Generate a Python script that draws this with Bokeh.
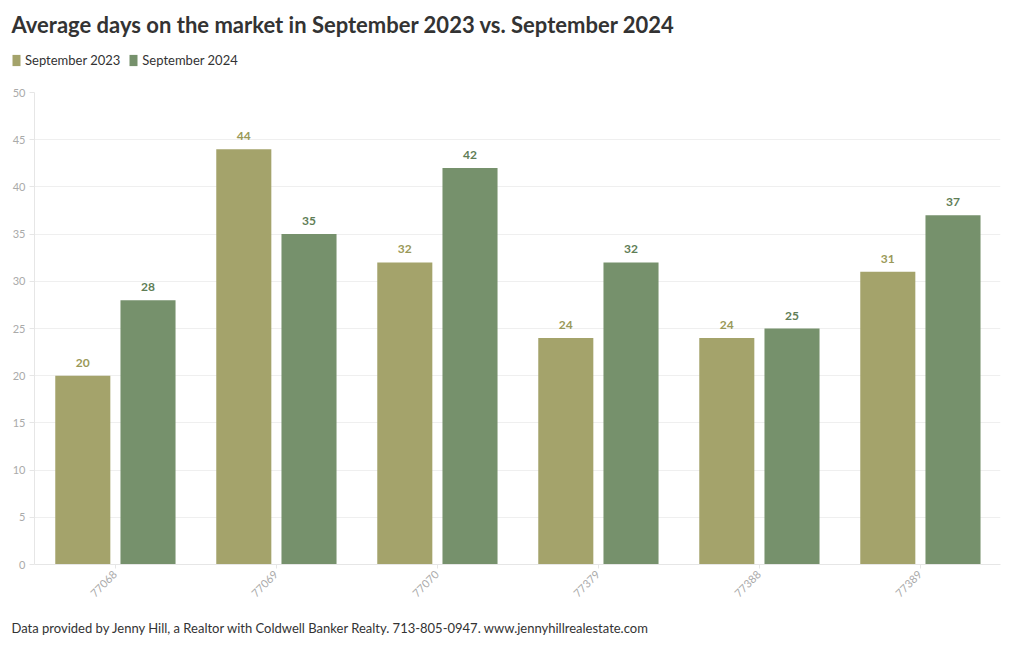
import math
from bokeh.plotting import figure
from bokeh.layouts import column, row
from bokeh.models import ColumnDataSource, Legend, LegendItem, Title, FixedTicker, Label
from bokeh.transform import dodge
from bokeh.core.properties import value
from bokeh.embed import file_html
from bokeh.resources import INLINE

zips = ["77068", "77069", "77070", "77379", "77388", "77389"]
sep2023 = [20, 44, 32, 24, 24, 31]
sep2024 = [28, 35, 42, 32, 25, 37]
series_names = ["September 2023", "September 2024"]
y_ticks = [0, 5, 10, 15, 20, 25, 30, 35, 40, 45, 50]
title_text = "Average days on the market in September 2023 vs. September 2024"
footer_text = ("Data provided by Jenny Hill, a Realtor with Coldwell Banker Realty. "
               "713-805-0947. www.jennyhillrealestate.com")

FONT = "Lato"
C23 = "#a4a36b"
C24 = "#76916c"
L23 = "#9a9958"
L24 = "#607d56"

src = ColumnDataSource(dict(
    zip=zips, a=sep2023, b=sep2024,
    at=[str(v) for v in sep2023], bt=[str(v) for v in sep2024],
))

# ---------- header: title + legend ----------
h = figure(width=1020, height=80, x_range=zips, y_range=(0, 50),
           output_backend="svg", toolbar_location=None,
           x_axis_location=None, y_axis_location=None,
           min_border=0, min_border_left=0, min_border_right=0,
           min_border_top=0, min_border_bottom=0)
h.grid.grid_line_color = None
h.outline_line_color = None
# zero-height bars: only used so the legend can draw the series swatches
h1 = h.vbar(x="zip", top="a", bottom="a", width=0.3, source=src,
            color=C23, line_color=None)
h2 = h.vbar(x="zip", top="b", bottom="b", width=0.3, source=src,
            color=C24, line_color=None)
h.add_layout(Label(x=11, y=56, x_units="screen", y_units="screen", text=title_text,
                   text_font=FONT, text_font_style="bold", text_font_size="22px",
                   text_color="#333333", text_baseline="middle", text_align="left"))
legend = Legend(items=[LegendItem(label=series_names[0], renderers=[h1]),
                       LegendItem(label=series_names[1], renderers=[h2])],
                orientation="horizontal", location=(11, 12),
                label_text_font=FONT, label_text_font_size="13px",
                label_text_color="#333333", glyph_width=10, glyph_height=14,
                label_standoff=4, spacing=8, padding=0, margin=0,
                border_line_color=None, background_fill_alpha=0)
h.add_layout(legend, "center")

# ---------- main chart ----------
p = figure(width=1020, height=570, x_range=zips, y_range=(0, 50),
           output_backend="svg", toolbar_location=None,
           min_border_left=34, min_border_right=20,
           min_border_top=12, min_border_bottom=86)

p.vbar(x=dodge("zip", -0.2, range=p.x_range), top="a", width=0.342,
       source=src, color=C23, line_color=None)
p.vbar(x=dodge("zip", 0.205, range=p.x_range), top="b", width=0.342,
       source=src, color=C24, line_color=None)

p.text(x=dodge("zip", -0.2, range=p.x_range), y="a", text="at", source=src,
       text_align="center", text_baseline="bottom", y_offset=-9,
       text_font=value(FONT), text_font_style="bold", text_font_size="12px",
       text_color=L23)
p.text(x=dodge("zip", 0.205, range=p.x_range), y="b", text="bt", source=src,
       text_align="center", text_baseline="bottom", y_offset=-9,
       text_font=value(FONT), text_font_style="bold", text_font_size="12px",
       text_color=L24)

p.yaxis.ticker = FixedTicker(ticks=y_ticks)
p.yaxis.axis_line_color = "#e6e6e6"
p.yaxis.major_tick_line_color = "#e6e6e6"
p.yaxis.major_tick_out = 5
p.yaxis.major_tick_in = 0
p.yaxis.minor_tick_line_color = None
p.yaxis.major_label_text_color = "#aaaaaa"
p.yaxis.major_label_text_font = FONT
p.yaxis.major_label_text_font_size = "11px"
p.yaxis.major_label_standoff = 4

p.xaxis.axis_line_color = "#e6e6e6"
p.xaxis.major_tick_line_color = "#e6e6e6"
p.xaxis.major_tick_out = 4
p.xaxis.major_tick_in = 0
p.xaxis.major_label_orientation = math.pi / 4
p.xaxis.major_label_text_color = "#aaaaaa"
p.xaxis.major_label_text_font = FONT
p.xaxis.major_label_text_font_size = "11px"
p.xaxis.major_label_standoff = 4

p.xgrid.grid_line_color = None
p.ygrid.grid_line_color = "#efefef"
p.outline_line_color = None
p.x_range.range_padding = 0

footer = Title(text=footer_text, align="left", text_font=FONT,
               text_font_style="normal", text_font_size="13px",
               text_color="#333333", offset=-23, standoff=29)
p.add_layout(footer, "below")

layout = column(row(h), p, spacing=0)
open("out.html", "w").write(file_html(layout, INLINE))
